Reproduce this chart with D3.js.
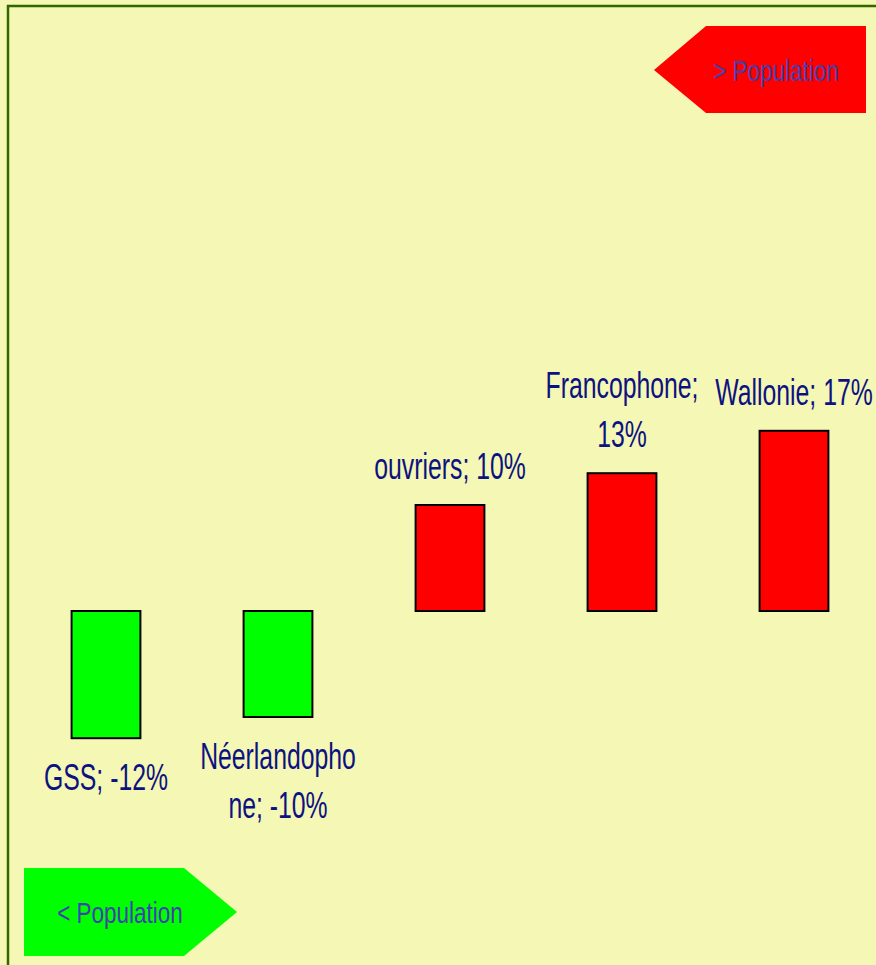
<!DOCTYPE html>
<html><head><meta charset="utf-8">
<script src="https://cdn.jsdelivr.net/npm/d3@7"></script>
<style>html,body{margin:0;padding:0;background:#f5f7b5;overflow:hidden}</style>
</head><body>
<script>
const categories = ["GSS", "Néerlandophone", "ouvriers", "Francophone", "Wallonie"];
const values = [-12, -10, 10, 13, 17];
const labelLines = [["GSS; -12%"], ["Néerlandopho", "ne; -10%"], ["ouvriers; 10%"], ["Francophone;", "13%"], ["Wallonie; 17%"]];
const legendLabels = ["> Population", "< Population"];

const W = 876, H = 965;
const svg = d3.select("body").append("svg").attr("width", W).attr("height", H);
svg.append("rect").attr("width", W).attr("height", H).attr("fill", "#f5f7b5");
svg.append("rect").attr("x", 8).attr("y", 6).attr("width", 1000).attr("height", 1100)
  .attr("fill", "none").attr("stroke", "#336600").attr("stroke-width", 2.5);

const x = d3.scaleBand().domain(categories).range([20, 880]).paddingInner(0.6).paddingOuter(0.3);
const y = d3.scaleLinear().domain([-15, 20]).range([611 + 159, 611 - 212]);

const data = categories.map((c, i) => ({c, v: values[i], lines: labelLines[i]}));

svg.selectAll("rect.bar").data(data).join("rect").attr("class", "bar")
  .attr("x", d => x(d.c)).attr("width", x.bandwidth())
  .attr("y", d => y(Math.max(0, d.v))).attr("height", d => Math.abs(y(d.v) - y(0)))
  .attr("fill", d => d.v < 0 ? "#00ff00" : "#ff0000")
  .attr("stroke", "#000").attr("stroke-width", 2);

const font = "'Liberation Sans Narrow', 'Liberation Sans', Arial, sans-serif";
const lh = 49;
const sx = 0.67;
data.forEach(d => {
  let cx = x(d.c) + x.bandwidth() / 2;
  const n = d.lines.length;
  d.lines.forEach((t, j) => {
    let by;
    if (d.v >= 0) by = y(d.v) - 26 - (n - 1 - j) * lh;
    else by = y(d.v) + 52 + j * lh;
    const el = svg.append("text").text(t)
      .attr("text-anchor", "middle").attr("font-family", font)
      .attr("font-size", 37).attr("fill", "#0c1280");
    const w = el.node().getComputedTextLength() * sx;
    let px = cx;
    if (px + w / 2 > W - 3) px = W - 3 - w / 2;
    el.attr("transform", `translate(${px},${by}) scale(${sx},1)`);
  });
});

// legend arrows
svg.append("polygon").attr("points", "654,70 706,26 866,26 866,113 706,113").attr("fill", "#ff0000");
svg.append("text").text(legendLabels[0])
  .attr("transform", "translate(776,81) scale(0.75,1)")
  .attr("text-anchor", "middle").attr("font-family", font).attr("font-size", 30).attr("fill", "#4040b0");
svg.append("polygon").attr("points", "24,868 184,868 237,912 184,956 24,956").attr("fill", "#00ff00");
svg.append("text").text(legendLabels[1])
  .attr("transform", "translate(120,923) scale(0.75,1)")
  .attr("text-anchor", "middle").attr("font-family", font).attr("font-size", 30).attr("fill", "#4040b0");
</script>
</body></html>
